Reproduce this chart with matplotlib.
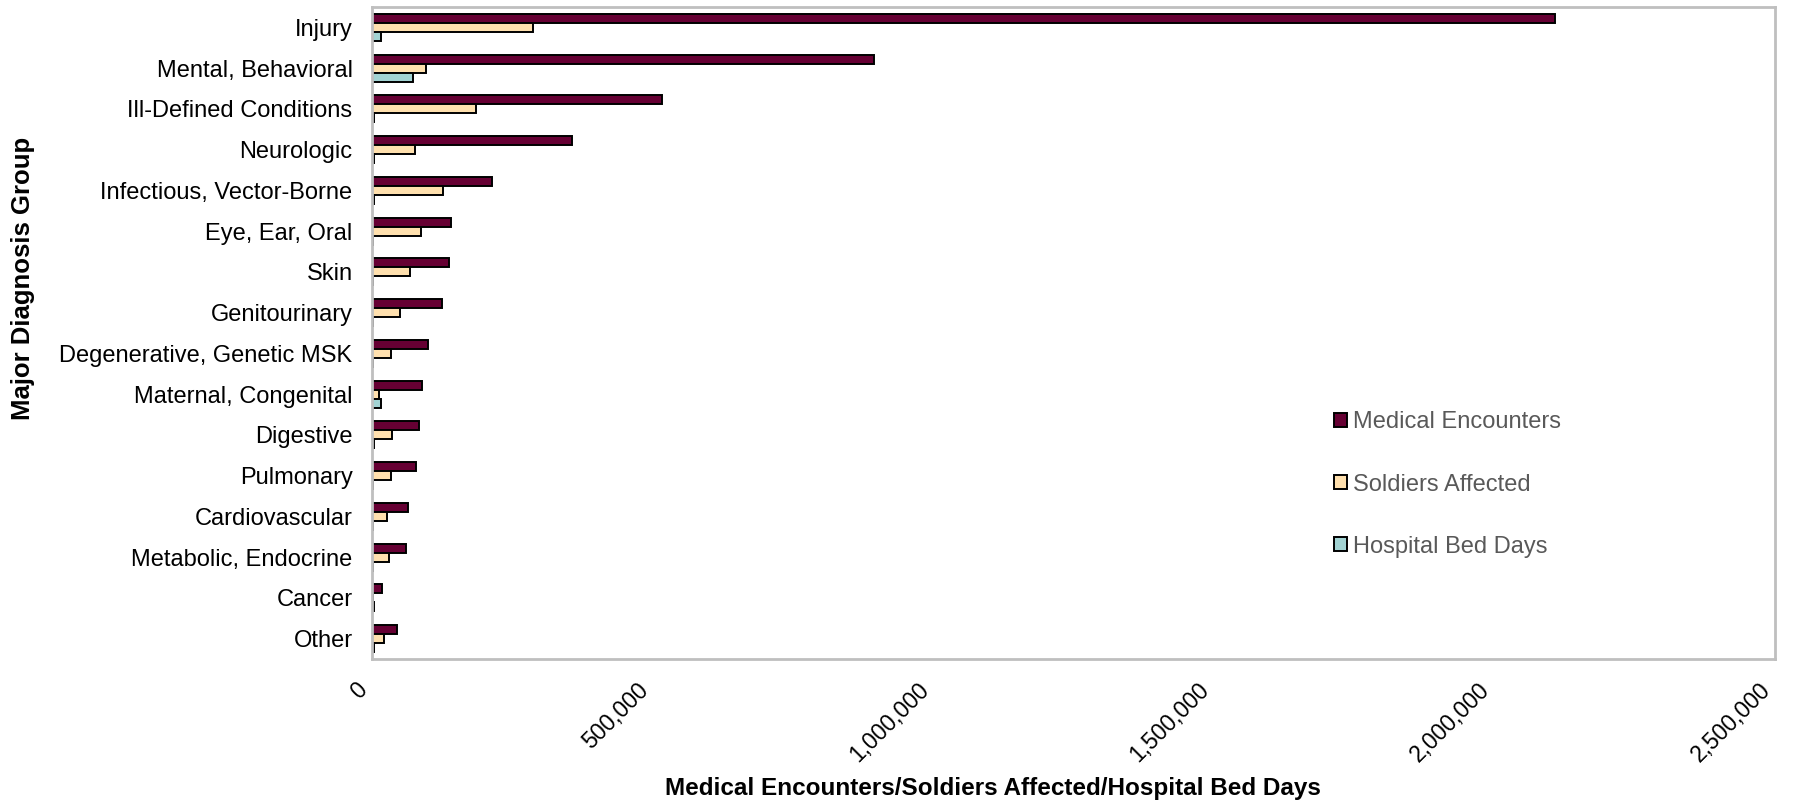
import matplotlib
matplotlib.use("Agg")
import matplotlib.pyplot as plt
import numpy as np
from matplotlib.ticker import FuncFormatter

plt.rcParams['font.family'] = ['Liberation Sans', 'DejaVu Sans']

categories = ["Injury", "Mental, Behavioral", "Ill-Defined Conditions", "Neurologic",
              "Infectious, Vector-Borne", "Eye, Ear, Oral", "Skin", "Genitourinary",
              "Degenerative, Genetic MSK", "Maternal, Congenital", "Digestive", "Pulmonary",
              "Cardiovascular", "Metabolic, Endocrine", "Cancer", "Other"]
medical_encounters = [2108000, 894000, 517000, 356000, 214000, 141000, 137000, 124000,
                      100000, 89000, 84000, 79000, 64000, 60000, 17000, 45000]
soldiers_affected = [287000, 96000, 185000, 77500, 126000, 87000, 67000, 50000,
                     34000, 12500, 36000, 34000, 26000, 30000, 2500, 22000]
hospital_bed_days = [15500, 72500, 3000, 3000, 3000, 2500, 2500, 2500,
                     2500, 15500, 3500, 2500, 2500, 2500, 3000, 3000]
series_names = ["Medical Encounters", "Soldiers Affected", "Hospital Bed Days"]
colors = ["#660033", "#FFE0AE", "#A2D3D3"]
xticks = [0, 500000, 1000000, 1500000, 2000000, 2500000]

fig = plt.figure(figsize=(17.94, 8.05), dpi=100)
ax = fig.add_axes([372/1794, 1-659/805, (1775-372)/1794, (659-7)/805])

n = len(categories)
y = np.arange(n)
h = 0.22
for i, (vals, name, c) in enumerate(zip([medical_encounters, soldiers_affected, hospital_bed_days],
                                         series_names, colors)):
    ax.barh(y + (i - 1) * h, vals, height=h, color=c, edgecolor="black",
            linewidth=1.4, label=name)

ax.set_ylim(n - 0.5, -0.5)
ax.set_xlim(0, 2500000)
ax.set_yticks(y)
ax.set_yticklabels(categories, fontsize=17, color="black")
ax.set_xticks(xticks)
ax.xaxis.set_major_formatter(FuncFormatter(lambda v, p: f"{int(v):,}"))
for lbl in ax.get_xticklabels():
    lbl.set_rotation(45)
    lbl.set_ha("right")
    lbl.set_va("top")
    lbl.set_fontsize(16.5)
ax.tick_params(axis="both", length=0)
ax.tick_params(axis="y", pad=14)
ax.tick_params(axis="x", pad=14)

for s in ax.spines.values():
    s.set_color("#BFBFBF")
    s.set_linewidth(2)

ax.set_xlabel("Medical Encounters/Soldiers Affected/Hospital Bed Days",
              fontsize=17.5, fontweight="bold")
ax.xaxis.set_label_coords((993-372)/1403, -(777-659)/652)
ax.set_ylabel("Major Diagnosis Group", fontsize=18.5, fontweight="bold")
ax.yaxis.set_label_coords(-(372-35)/1403, (659-278)/652)

leg = ax.legend(loc="upper left", bbox_to_anchor=((1325-372)/1403, (659-402)/652),
                frameon=False, fontsize=17, handlelength=0.55, handleheight=0.55,
                handletextpad=0.25, labelspacing=1.7, borderaxespad=0)
for t in leg.get_texts():
    t.set_color("#595959")

fig.savefig("out.png", dpi=100, facecolor="white")
